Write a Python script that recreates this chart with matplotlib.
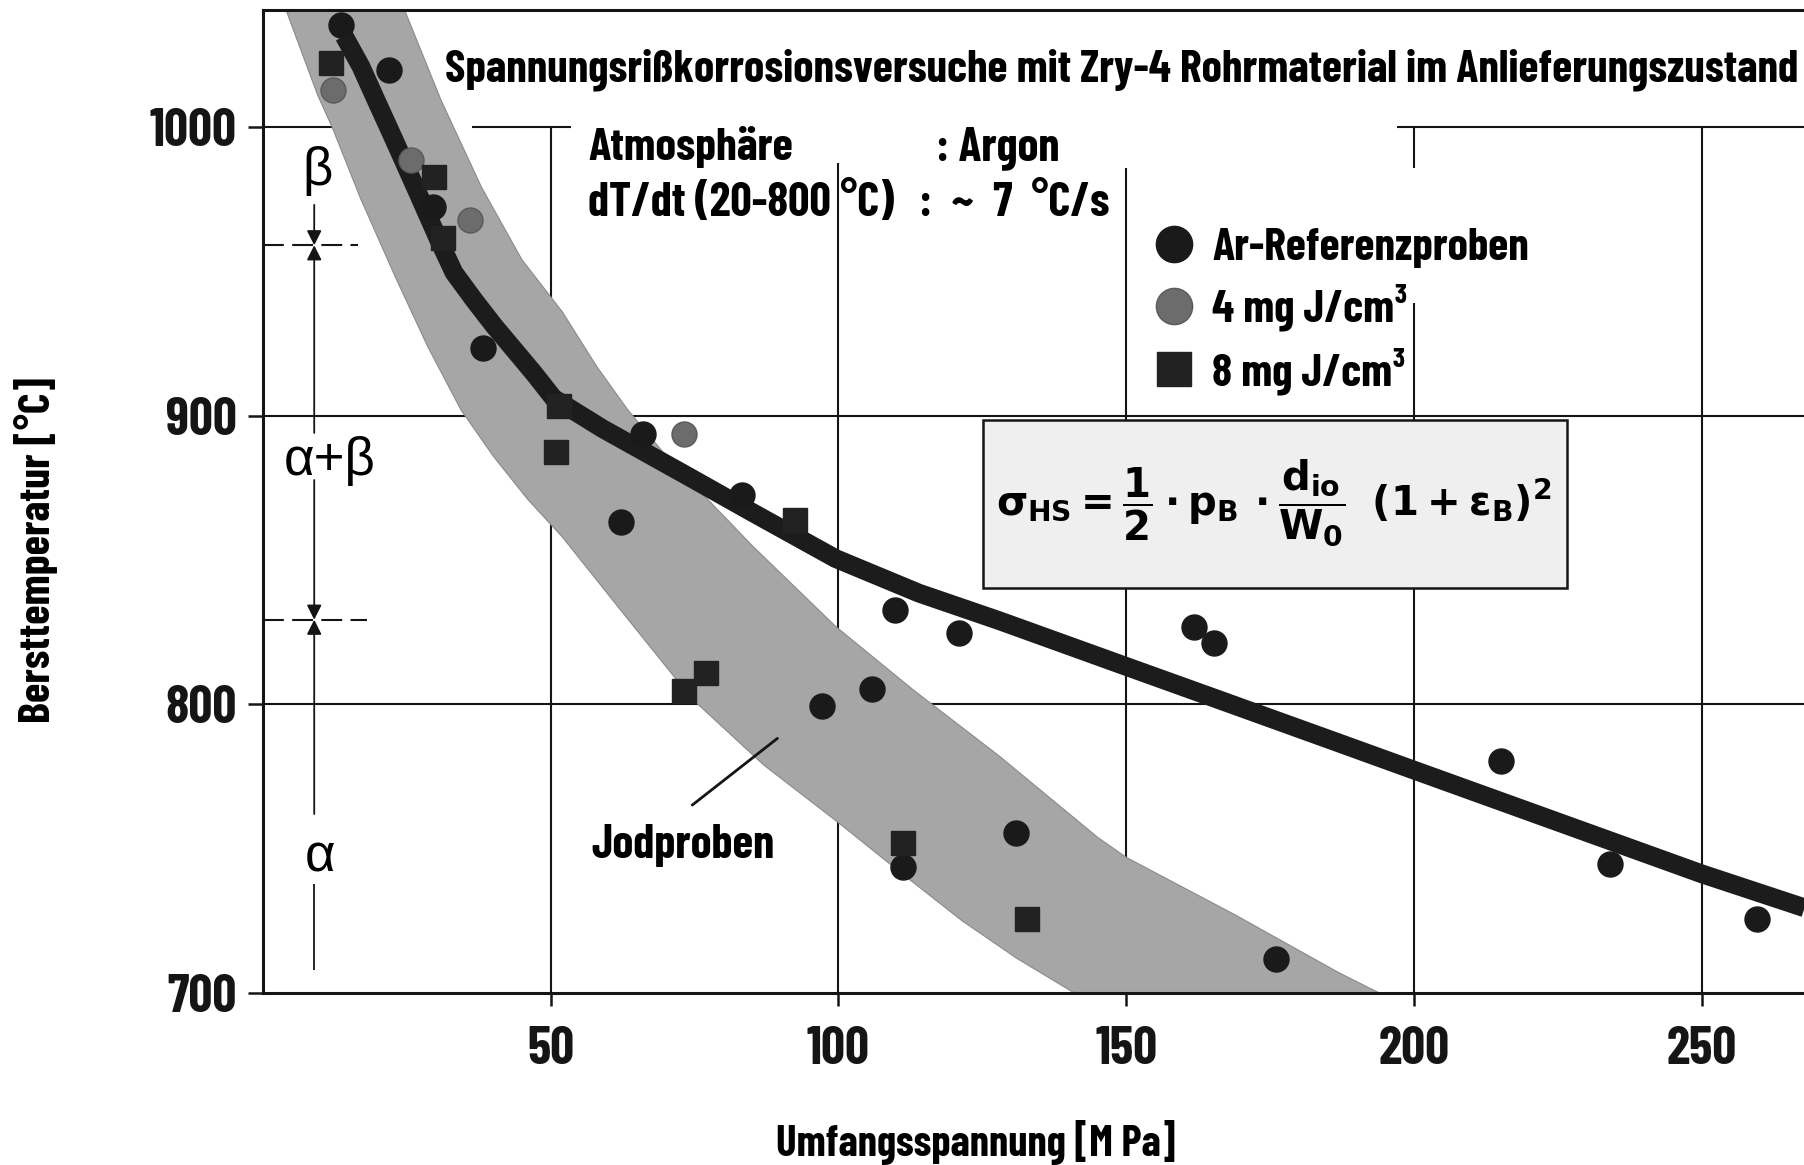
import numpy as np
import matplotlib
matplotlib.use("Agg")
import matplotlib.pyplot as plt
from matplotlib.patches import Rectangle

# ---------------------------------------------------------------------------
# Data: burst temperature vs. hoop stress (Zry-4 cladding, as received)
# ---------------------------------------------------------------------------
ar_stress = [13.6, 21.9, 29.5, 38.2, 62.2, 66.0, 83.3, 97.2, 105.9, 109.9,
             111.3, 120.9, 130.8, 161.8, 165.3, 176.0, 215.1, 234.0, 259.6]
ar_temp = [1035.3, 1019.7, 972.4, 923.3, 863.3, 893.5, 872.5, 799.4, 805.3,
           832.7, 743.7, 824.6, 755.3, 826.9, 821.1, 711.8, 780.4, 744.8, 725.8]

iod4_stress = [12.1, 25.7, 36.0, 73.2]
iod4_temp = [1012.8, 988.5, 967.7, 893.6]

iod8_stress = [11.9, 29.8, 31.2, 51.0, 51.5, 73.2, 76.9, 92.4, 111.3, 132.7]
iod8_temp = [1022.0, 982.8, 961.5, 887.5, 903.5, 804.7, 811.0, 863.8, 752.0, 725.5]

# Reference curve for the argon specimens
fit_stress = [14.1, 17.0, 19.6, 22.8, 26.5, 30.5, 33.2, 36.7, 40.2, 43.7, 47.1,
              50.5, 59.0, 73.4, 85.0, 99.5, 114.0, 127.9, 149.9, 166.1, 187.4,
              200.3, 250.0, 267.9]
fit_temp = [1031.5, 1021.0, 1009.5, 995.5, 979.0, 961.0, 949.5, 940.0, 931.0,
            922.7, 914.6, 906.0, 895.5, 879.5, 866.5, 850.5, 838.5, 829.0,
            813.2, 801.6, 786.3, 777.0, 741.3, 729.5]

# Scatter band of the iodine specimens (upper and lower boundary)
band_hi_stress = [24.6, 31.0, 38.0, 45.0, 52.0, 58.0, 63.4, 70.5, 85.0, 99.5,
                  113.0, 128.0, 145.0, 150.0, 169.0, 187.0, 194.0]
band_hi_temp = [1040.5, 1009.0, 979.0, 954.0, 936.0, 917.0, 902.0, 885.0,
                855.0, 827.0, 805.0, 782.0, 754.0, 747.0, 727.0, 707.0, 700.0]
band_lo_stress = [4.0, 9.5, 12.0, 17.0, 23.0, 28.6, 34.4, 40.0, 46.0, 52.0,
                  62.0, 74.5, 87.0, 100.0, 110.0, 121.5, 131.0, 141.0]
band_lo_temp = [1040.5, 1011.0, 1000.0, 975.0, 948.0, 924.0, 902.0, 886.0,
                871.0, 858.0, 833.0, 802.0, 779.0, 759.0, 743.0, 725.0, 712.0, 700.0]

# Phase boundaries of Zircaloy (beta | alpha+beta | alpha)
phase_limits = [959.0, 829.3]

x_ticks = [50, 100, 150, 200, 250]
y_ticks = [700, 800, 900, 1000]

legend_labels = ["Ar-Referenzproben", "4 mg J/cm³", "8 mg J/cm³"]
title = "Spannungsrißkorrosionsversuche mit Zry-4 Rohrmaterial im Anlieferungszustand"

# ---------------------------------------------------------------------------
# Style
# ---------------------------------------------------------------------------
COND = ["Barlow Condensed", "DejaVu Sans Condensed", "DejaVu Sans"]
GREEK = ["Liberation Sans", "DejaVu Sans"]
plt.rcParams["font.family"] = COND
plt.rcParams["font.weight"] = "bold"
plt.rcParams["mathtext.fontset"] = "custom"
for key in ("rm", "it", "bf", "sf"):
    plt.rcParams["mathtext." + key] = "DejaVu Sans Condensed:bold"

INK = "#151515"
BAND = "#a6a6a6"

fig = plt.figure(figsize=(18.04, 11.65), dpi=100)
ax = fig.add_axes([263 / 1804, 172 / 1165, 1541 / 1804, 983 / 1165])
xmax = 267.8
ax.set_xlim(0, xmax)
ax.set_ylim(700, 1040.5)

for side in ("left", "bottom", "top"):
    ax.spines[side].set_linewidth(2.2)
    ax.spines[side].set_color(INK)
ax.spines["right"].set_visible(False)

# Grid drawn in pieces, leaving room for the text blocks
grid_h = {1000: [(0, 32), (36.4, 53.5), (197, xmax)],
          900: [(0, xmax)], 800: [(0, xmax)]}
grid_v = {50: [(700, 1000)], 100: [(700, 987.5)], 150: [(700, 985.6)],
          200: [(700, 939), (985.6, 1000)], 250: [(700, 1000)]}
for yv, segs in grid_h.items():
    for a, b in segs:
        ax.hlines(yv, a, b, color=INK, lw=1.5, zorder=1)
for xv, segs in grid_v.items():
    for a, b in segs:
        ax.vlines(xv, a, b, color=INK, lw=1.5, zorder=1)

# Iodine scatter band
band_x = np.concatenate([band_hi_stress, band_lo_stress[::-1]])
band_y = np.concatenate([band_hi_temp, band_lo_temp[::-1]])
ax.fill(band_x, band_y, color=BAND, lw=0.8, ec="#8a8a8a", zorder=2)

# Argon reference curve
ax.plot(fit_stress, fit_temp, color="#1c1c1c", lw=13.5, solid_capstyle="butt",
        solid_joinstyle="round", zorder=3)

# Measurements
h_ar, = ax.plot(ar_stress, ar_temp, ls="none", marker="o", ms=18,
                color="#1a1a1a", mec="#1a1a1a", zorder=5)
h4, = ax.plot(iod4_stress, iod4_temp, ls="none", marker="o", ms=18,
              color="#6c6c6c", mec="#5a5a5a", zorder=5)
h8, = ax.plot(iod8_stress, iod8_temp, ls="none", marker="s", ms=17,
              color="#222222", mec="#222222", zorder=5)

leg = ax.legend([h_ar, h4, h8], legend_labels, loc="upper left",
                bbox_to_anchor=(0.576, 0.778), frameon=False, markerscale=1.45,
                handlelength=1.0, handletextpad=0.35, labelspacing=0.34,
                borderpad=0, borderaxespad=0,
                prop=dict(family=COND, weight="bold", size=33))
leg.set_zorder(6)

# Axes ticks and labels
ax.set_xticks(x_ticks)
ax.set_yticks(y_ticks)
ax.tick_params(axis="x", length=9.5, width=1.8, pad=14, labelsize=38, colors=INK)
ax.tick_params(axis="y", length=11, width=1.8, pad=8, labelsize=38, colors=INK)
for lab in ax.get_xticklabels() + ax.get_yticklabels():
    lab.set_fontweight("bold")

ax.set_xlabel("Umfangsspannung [M Pa]", fontsize=31, fontweight="bold")
ax.xaxis.set_label_coords(0.4624, -0.129)
ax.set_ylabel("Bersttemperatur [°C]", fontsize=32, fontweight="bold")
ax.yaxis.set_label_coords(-0.1475, 0.4507)
ax.yaxis.label.set_verticalalignment("center")

# Title and test conditions
ax.text(31.7, 1015.6, title, ha="left", va="baseline", fontsize=33,
        fontweight="bold", zorder=6)
ax.text(56.5, 988.5, "Atmosphäre", ha="left", va="baseline", fontsize=33.5,
        fontweight="bold", zorder=6)
ax.text(117.0, 988.5, ": Argon", ha="left", va="baseline", fontsize=34,
        fontweight="bold", zorder=6)
ax.text(56.5, 969.2, "dT/dt (20-800 °C)", ha="left", va="baseline",
        fontsize=34, fontweight="bold", zorder=6)
ax.text(114.0, 969.2, ":  ~  7  °C/s", ha="left", va="baseline", fontsize=34,
        fontweight="bold", zorder=6)

# Hoop stress formula
ax.add_patch(Rectangle((125.2, 840.3), 101.4, 58.3, facecolor="#efefef",
                       edgecolor=INK, lw=1.8, zorder=4))
ax.text(175.7, 870.0,
        r"$\sigma_{\mathrm{HS}}=\dfrac{1}{2}\cdot p_{\mathrm{B}}\,\cdot"
        r"\dfrac{d_{\mathrm{io}}}{W_{0}}\;\;(1+\varepsilon_{\mathrm{B}})^{2}$",
        ha="center", va="center", fontsize=29, zorder=6)

# Iodine band label
ax.text(57.0, 746.6, "Jodproben", ha="left", va="baseline", fontsize=34,
        fontweight="bold", zorder=6)
ax.annotate("", xy=(89.4, 788.2), xytext=(74.6, 765.1),
            arrowprops=dict(arrowstyle="-", lw=2, color=INK,
                            shrinkA=0, shrinkB=0), zorder=6)

# Phase regions on the left
dim_x = 8.9
ax.hlines(phase_limits, 0, [16.5, 18.1], color=INK, lw=1.5,
          linestyles=[(0, (10, 4))], zorder=1)
arrow = dict(arrowstyle="-|>", lw=1.3, color=INK, mutation_scale=22,
             shrinkA=0, shrinkB=0)
ax.annotate("", xy=(dim_x, phase_limits[0]), xytext=(dim_x, 973.0), arrowprops=arrow)
ax.annotate("", xy=(dim_x, phase_limits[0]), xytext=(dim_x, 894.0), arrowprops=arrow)
ax.annotate("", xy=(dim_x, phase_limits[1]), xytext=(dim_x, 877.7), arrowprops=arrow)
ax.annotate("", xy=(dim_x, phase_limits[1]), xytext=(dim_x, 762.0), arrowprops=arrow)
ax.vlines(dim_x, 707.8, 737.8, color=INK, lw=1.3)

white = dict(facecolor="white", edgecolor="none", pad=1)
ax.text(9.4, 984.7, "β", ha="center", va="center", fontsize=38,
        family=GREEK, fontweight="normal", bbox=white, zorder=6)
ax.text(11.6, 884.3, "α+β", ha="center", va="center", fontsize=38,
        family=GREEK, fontweight="normal", zorder=6)
ax.text(10.0, 746.8, "α", ha="center", va="center", fontsize=38,
        family=GREEK, fontweight="normal", zorder=6)

fig.savefig("out.png", dpi=100)
